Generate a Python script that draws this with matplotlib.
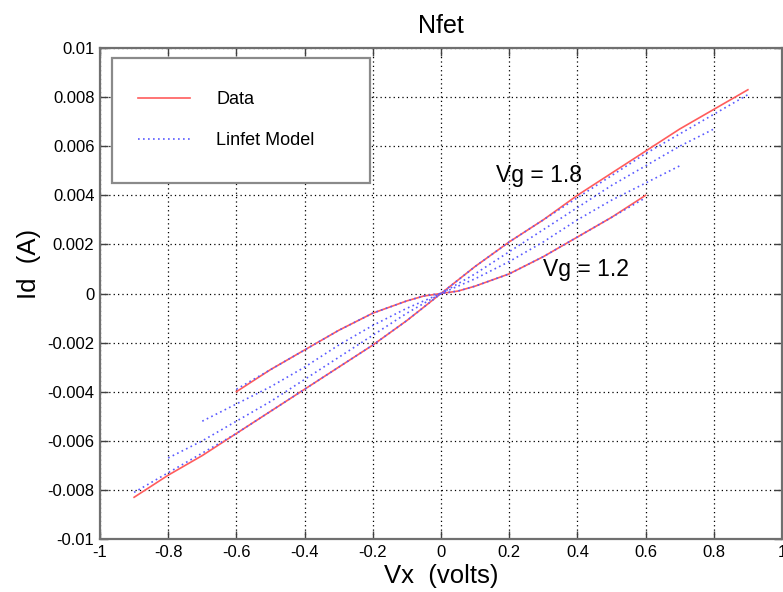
import matplotlib
matplotlib.use("Agg")
import matplotlib.pyplot as plt
from matplotlib.patches import Rectangle
from matplotlib.ticker import FuncFormatter, MultipleLocator

plt.rcParams['font.family'] = ['Liberation Sans', 'DejaVu Sans']

# Vg = 1.8
vx_18 = [-0.9, -0.8, -0.7, -0.6, -0.5, -0.4, -0.3, -0.2, -0.1, 0.0,
         0.1, 0.2, 0.3, 0.4, 0.5, 0.6, 0.7, 0.8, 0.9]
id_18_data = [-0.0083, -0.0074, -0.0066, -0.0057, -0.0048, -0.0039, -0.0030, -0.0021, -0.0011, 0.0,
              0.0011, 0.0021, 0.0030, 0.0040, 0.0049, 0.0058, 0.0067, 0.0075, 0.0083]
id_18_model = [-0.0081, -0.0073, -0.0065, -0.0057, -0.0048, -0.0039, -0.0030, -0.0021, -0.0011, 0.0,
               0.0011, 0.0021, 0.0030, 0.0039, 0.0048, 0.0057, 0.0065, 0.0073, 0.0081]

# Vg = 1.6 (model only)
vx_16 = [-0.8, -0.7, -0.6, -0.5, -0.4, -0.3, -0.2, -0.1, 0.0,
         0.1, 0.2, 0.3, 0.4, 0.5, 0.6, 0.7, 0.8]
id_16_model = [-0.0067, -0.0060, -0.0052, -0.0044, -0.0035, -0.0026, -0.0017, -0.0008, 0.0,
               0.0008, 0.0017, 0.0026, 0.0035, 0.0044, 0.0052, 0.0060, 0.0067]

# Vg = 1.4 (model only)
vx_14 = [-0.7, -0.6, -0.5, -0.4, -0.3, -0.2, -0.1, 0.0,
         0.1, 0.2, 0.3, 0.4, 0.5, 0.6, 0.7]
id_14_model = [-0.0052, -0.0045, -0.0038, -0.0030, -0.0021, -0.0013, -0.0006, 0.0,
               0.0006, 0.0013, 0.0021, 0.0030, 0.0038, 0.0045, 0.0052]

# Vg = 1.2
vx_12 = [-0.6, -0.5, -0.4, -0.3, -0.2, -0.1, -0.05, 0.0, 0.05, 0.1, 0.2, 0.3, 0.4, 0.5, 0.6]
id_12_data = [-0.0040, -0.0031, -0.0023, -0.0015, -0.0008, -0.0003, -0.0001, 0.0,
              0.0001, 0.0003, 0.0008, 0.0015, 0.0023, 0.0031, 0.0040]
id_12_model = [-0.0039, -0.0031, -0.0023, -0.0015, -0.0008, -0.0003, -0.0001, 0.0,
               0.0001, 0.0003, 0.0008, 0.0015, 0.0023, 0.0031, 0.0039]

red = '#ff5c5c'
blue = '#5a5aff'
dots = (0, (1, 2))

fig = plt.figure(figsize=(7.83, 5.92), dpi=100)
ax = fig.add_axes([0.1277, 0.0895, 0.871, 0.8294])

ax.plot(vx_18, id_18_data, color=red, lw=1.2, label='Data')
ax.plot(vx_12, id_12_data, color=red, lw=1.2)
ax.plot(vx_18, id_18_model, color=blue, lw=1.2, ls=dots, label='Linfet Model')
ax.plot(vx_16, id_16_model, color=blue, lw=1.2, ls=dots)
ax.plot(vx_14, id_14_model, color=blue, lw=1.2, ls=dots)
ax.plot(vx_12, id_12_model, color=blue, lw=1.2, ls=dots)

ax.set_xlim(-1, 1)
ax.set_ylim(-0.01, 0.01)
ax.xaxis.set_major_locator(MultipleLocator(0.2))
ax.yaxis.set_major_locator(MultipleLocator(0.002))
fmt = FuncFormatter(lambda v, p: '%g' % round(v, 6))
ax.xaxis.set_major_formatter(fmt)
ax.yaxis.set_major_formatter(fmt)

ax.grid(True, color='black', ls=(0, (1, 2.5)), lw=0.9)
ax.tick_params(direction='in', top=True, right=True, length=6, width=1,
               labelsize=12, pad=4, color='#404040')
for s in ax.spines.values():
    s.set_color('#707070')
    s.set_linewidth(1.6)

ax.set_title('Nfet', fontsize=18, pad=11)
ax.set_xlabel('Vx  (volts)', fontsize=18.5, labelpad=3)
ax.set_ylabel('Id  (A)', fontsize=18.5)
ax.yaxis.set_label_coords(-0.087, 0.56)

ax.text(0.16, 0.0048, 'Vg = 1.8', fontsize=16.5, va='center')
ax.text(0.30, 0.00098, 'Vg = 1.2', fontsize=16.5, va='center')

# legend frame drawn separately, MATLAB-like placement
box = Rectangle((0.0176, 0.725), 0.378, 0.2546, transform=ax.transAxes,
                facecolor='white', edgecolor='#8a8a8a', lw=1.6, zorder=4.5)
ax.add_patch(box)
leg = ax.legend(loc='upper left', bbox_to_anchor=(0.0557, 0.912), borderaxespad=0,
                frameon=False, fontsize=13, borderpad=0, labelspacing=1.32,
                handlelength=2.9, handletextpad=1.44)
leg.set_zorder(5)

fig.savefig('out.png', dpi=100)
